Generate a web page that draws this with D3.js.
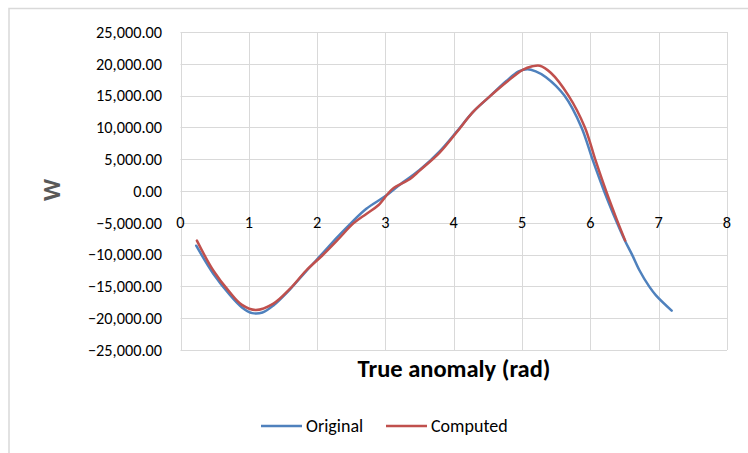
<!DOCTYPE html>
<html>
<head>
<meta charset="utf-8">
<script src="https://cdn.jsdelivr.net/npm/d3@7"></script>
<style>
  body { margin: 0; background: #fff; }
  svg { display: block; }
  text { font-family: Carlito, Lato, "Open Sans", sans-serif; }
</style>
</head>
<body>
<script>
// values
const origX = [0.23, 0.48, 0.72, 0.9, 1.05, 1.2, 1.36, 1.6, 1.84, 2.08, 2.3, 2.5, 2.72, 3.0, 3.2, 3.5, 3.79, 4.04, 4.28, 4.52, 4.77, 4.95, 5.08, 5.2, 5.35, 5.62, 5.87, 6.03, 6.2, 6.39, 6.51, 6.61, 6.72, 6.86, 6.96, 7.19];
const origW = [-8600, -13000, -16300, -18300, -19200, -19100, -18000, -15500, -12600, -9800, -7200, -5000, -2800, -800, 900, 3300, 6200, 9300, 12400, 14800, 17300, 18800, 19150, 18800, 17900, 15000, 10000, 5000, 0, -5000, -7900, -10000, -12500, -15000, -16400, -18800];

const compX = [0.24, 0.48, 0.72, 0.9, 1.1, 1.36, 1.6, 1.84, 2.08, 2.3, 2.53, 2.72, 2.9, 3.1, 3.36, 3.5, 3.79, 4.04, 4.28, 4.52, 4.77, 5.01, 5.15, 5.26, 5.42, 5.68, 5.92, 6.07, 6.23, 6.38, 6.51];
const compW = [-7800, -12500, -15900, -17900, -18700, -17700, -15400, -12500, -10100, -7700, -5100, -3600, -2200, 300, 1900, 3200, 6000, 9200, 12400, 14800, 17100, 19050, 19600, 19700, 18600, 15000, 10000, 5000, 0, -4300, -7800];

const xTicks = [0, 1, 2, 3, 4, 5, 6, 7, 8];
const yTicks = [-25000, -20000, -15000, -10000, -5000, 0, 5000, 10000, 15000, 20000, 25000];

const series = [
    { name: "Original", xs: origX, ys: origW, color: "#4F81BD" },
    { name: "Computed", xs: compX, ys: compW, color: "#C0504D" }
];

const width = 748, height = 453;
const plot = { left: 180.5, right: 727, top: 32, bottom: 350 };

const x = d3.scaleLinear().domain([0, 8]).range([plot.left, plot.right]);
const y = d3.scaleLinear().domain([-25000, 25000]).range([plot.bottom, plot.top]);

const svg = d3.select("body").append("svg")
    .attr("width", width)
    .attr("height", height);

// chart area border
svg.append("rect")
    .attr("x", 9).attr("y", 8.5)
    .attr("width", 800).attr("height", 500)
    .attr("fill", "none")
    .attr("stroke", "#d9d9d9")
    .attr("stroke-width", 1.5);

// grid
const grid = svg.append("g").attr("stroke", "#d9d9d9").attr("stroke-width", 1);
grid.selectAll("line.h").data(yTicks).join("line")
    .attr("x1", plot.left).attr("x2", plot.right)
    .attr("y1", d => Math.round(y(d)) + 0.5).attr("y2", d => Math.round(y(d)) + 0.5);
grid.selectAll("line.v").data(xTicks).join("line")
    .attr("y1", plot.top).attr("y2", plot.bottom)
    .attr("x1", d => Math.round(x(d)) + 0.5).attr("x2", d => Math.round(x(d)) + 0.5);

// y tick labels
const fmt = d3.format(",.2f");
svg.append("g")
    .style("font-size", "16.3px")
    .attr("fill", "#000")
    .attr("text-anchor", "end")
    .selectAll("text")
    .data(yTicks)
    .join("text")
    .attr("x", 162)
    .attr("y", d => y(d))
    .attr("dy", "0.35em")
    .text(d => fmt(d));

// x tick labels (sit just under the zero line)
svg.append("g")
    .style("font-size", "16.3px")
    .attr("fill", "#000")
    .attr("text-anchor", "middle")
    .selectAll("text")
    .data(xTicks)
    .join("text")
    .attr("x", d => x(d))
    .attr("y", y(0) + 37)
    .text(d => d);

// lines
const line = d3.line()
    .x(d => x(d[0]))
    .y(d => y(d[1]))
    .curve(d3.curveCatmullRom.alpha(0.5));

series.forEach(s => {
    svg.append("path")
        .datum(s.xs.map((v, i) => [v, s.ys[i]]))
        .attr("fill", "none")
        .attr("stroke", s.color)
        .attr("stroke-width", 2.5)
        .attr("stroke-linecap", "round")
        .attr("d", line);
});

// axis titles
svg.append("text")
    .attr("x", 454).attr("y", 377)
    .attr("text-anchor", "middle")
    .style("font-size", "24.5px")
    .style("font-weight", "bold")
    .attr("fill", "#000")
    .text("True anomaly (rad)");

svg.append("text")
    .attr("transform", "translate(60,190) rotate(-90)")
    .attr("text-anchor", "middle")
    .style("font-size", "24.5px")
    .style("font-weight", "bold")
    .attr("fill", "#595959")
    .text("W");

// legend
const legend = svg.append("g").style("font-size", "18px");
const legX = [261, 386];
series.forEach((s, i) => {
    const g = legend.append("g").attr("transform", `translate(${legX[i]},426)`);
    g.append("line")
        .attr("x1", 0).attr("x2", 41)
        .attr("stroke", s.color).attr("stroke-width", 2.5);
    g.append("text")
        .attr("x", 45).attr("dy", "0.35em")
        .attr("fill", "#000")
        .text(s.name);
});
</script>
</body>
</html>
